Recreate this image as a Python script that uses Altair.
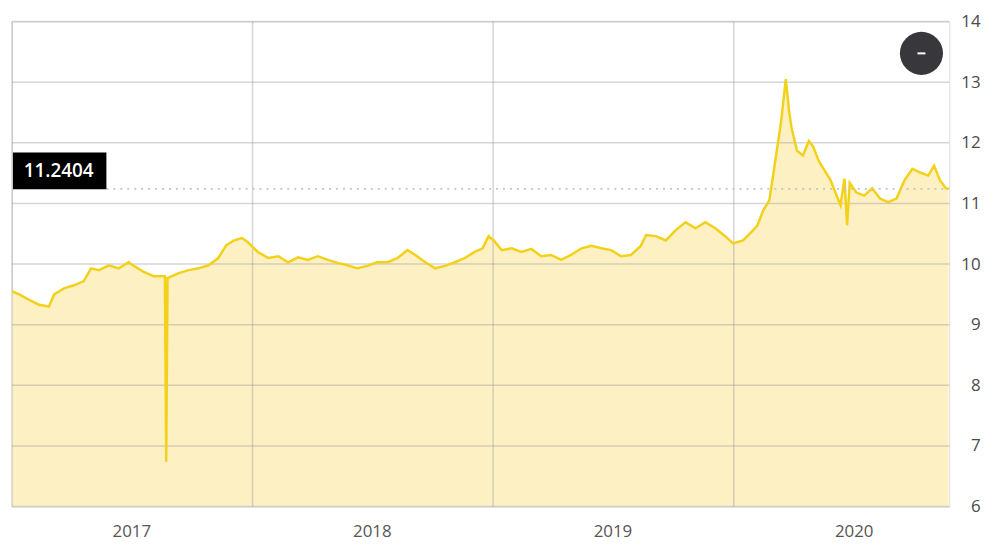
import altair as alt
import pandas as pd

dates = ["2017-01-01","2017-01-12","2017-01-27","2017-02-11","2017-02-26","2017-03-06","2017-03-21","2017-04-05","2017-04-20","2017-05-01",
         "2017-05-13","2017-05-28","2017-06-12","2017-06-27","2017-07-05","2017-07-20","2017-08-04","2017-08-21","2017-08-23","2017-08-25",
         "2017-09-11","2017-09-26","2017-10-11","2017-10-26","2017-11-10","2017-11-22","2017-12-04","2017-12-16","2017-12-25","2018-01-09",
         "2018-01-25","2018-02-09","2018-02-24","2018-03-11","2018-03-26","2018-04-10","2018-04-25","2018-05-10","2018-05-25","2018-06-09",
         "2018-06-24","2018-07-09","2018-07-25","2018-08-09","2018-08-24","2018-09-05","2018-09-20","2018-10-05","2018-10-20","2018-11-04",
         "2018-11-19","2018-12-04","2018-12-16","2018-12-25","2019-01-02","2019-01-14","2019-01-29","2019-02-13","2019-02-28","2019-03-15",
         "2019-03-30","2019-04-14","2019-04-29","2019-05-15","2019-05-30","2019-06-14","2019-06-29","2019-07-14","2019-07-29","2019-08-13",
         "2019-08-21","2019-09-05","2019-09-20","2019-10-05","2019-10-20","2019-11-04","2019-11-19","2019-12-04","2019-12-19","2019-12-31",
         "2020-01-15","2020-01-27","2020-02-06","2020-02-15","2020-02-24","2020-03-04","2020-03-13","2020-03-20","2020-03-25","2020-03-29",
         "2020-04-06","2020-04-15","2020-04-24","2020-04-30","2020-05-09","2020-05-18","2020-05-27","2020-06-05","2020-06-11","2020-06-17",
         "2020-06-21","2020-06-25","2020-07-05","2020-07-17","2020-07-29","2020-08-10","2020-08-22","2020-09-04","2020-09-16","2020-09-28",
         "2020-10-10","2020-10-22","2020-10-31","2020-11-09","2020-11-18","2020-11-22"]
values = [9.55,9.50,9.41,9.33,9.30,9.50,9.60,9.65,9.72,9.93,
          9.90,9.98,9.93,10.03,9.97,9.87,9.80,9.80,6.74,9.77,
          9.85,9.90,9.93,9.98,10.10,10.31,10.39,10.43,10.36,10.20,
          10.10,10.13,10.03,10.11,10.07,10.13,10.07,10.02,9.98,9.93,
          9.97,10.03,10.03,10.10,10.23,10.15,10.03,9.93,9.97,10.03,
          10.10,10.20,10.26,10.46,10.39,10.23,10.26,10.20,10.25,10.13,
          10.15,10.07,10.15,10.26,10.30,10.26,10.23,10.13,10.15,10.30,
          10.48,10.46,10.39,10.56,10.69,10.59,10.69,10.59,10.46,10.34,
          10.39,10.52,10.64,10.89,11.05,11.70,12.36,13.05,12.52,12.23,
          11.87,11.79,12.03,11.95,11.70,11.54,11.38,11.13,10.97,11.41,
          10.64,11.34,11.18,11.13,11.25,11.08,11.02,11.08,11.38,11.57,
          11.51,11.46,11.62,11.38,11.25,11.24]

current_value = 11.2404
current_label = "11.2404"
y_ticks = [6, 7, 8, 9, 10, 11, 12, 13, 14]
y_min = 6
year_starts = ["2017-01-01", "2018-01-01", "2019-01-01", "2020-01-01"]
label_years = [2017, 2018, 2019, 2020]

df = pd.DataFrame({"date": dates, "value": values})
grid_y = pd.DataFrame({"v": y_ticks})
grid_x = pd.DataFrame({"d": year_starts})

W, H = 943, 488
FONT = "Open Sans"

xscale = alt.Scale(type="utc",
                   domain=[alt.DateTime(year=2017, month=1, date=1, utc=True),
                           alt.DateTime(year=2020, month=11, date=23, utc=True)])
yscale = alt.Scale(domain=[6, 14], nice=False, zero=False)

x_enc = alt.X("date:T", scale=xscale, title=None,
              axis=alt.Axis(values=[alt.DateTime(year=y, month=7, date=1, utc=True) for y in label_years],
                            format="%Y", grid=False, ticks=False, domain=False,
                            labelFontSize=17, labelColor="#555555", labelFont=FONT,
                            labelPadding=17))
y_enc = alt.Y("value:Q", scale=yscale, title=None,
              axis=alt.Axis(orient="right", values=y_ticks, format="d", grid=False, ticks=False, domain=False,
                            labelFontSize=17, labelColor="#4a4a4a", labelFont=FONT,
                            labelAlign="right", labelPadding=31, labelBaseline="middle"))

base = alt.Chart(df)

area = base.mark_area(color="#fdf1c4", opacity=1, clip=True).encode(
    x=x_enc, y=y_enc, y2=alt.Y2(datum=y_min))

hgrid = alt.Chart(grid_y).mark_rule(color="#999999", opacity=0.4, strokeWidth=1.5).encode(
    y=alt.Y("v:Q", scale=yscale), x=alt.value(0), x2=alt.value(W))
vgrid = alt.Chart(grid_x).mark_rule(color="#999999", opacity=0.4, strokeWidth=1.5).encode(
    x=alt.X("d:T", scale=xscale), y=alt.value(0), y2=alt.value(H))

line = base.mark_line(color="#f3d11b", strokeWidth=2.5, clip=True).encode(x="date:T", y="value:Q")

cur_df = pd.DataFrame({"v": [current_value], "t": [current_label]})
dotted = alt.Chart(cur_df).mark_rule(color="#c4c4c4", strokeWidth=2, strokeDash=[2, 5]).encode(
    y=alt.Y("v:Q", scale=yscale), x=alt.value(95), x2=alt.value(W))
box = alt.Chart(cur_df).mark_rect(color="#000000", width=94, height=37, yOffset=-18).encode(
    y=alt.Y("v:Q", scale=yscale), x=alt.value(48))
box_text = alt.Chart(cur_df).mark_text(color="#ffffff", font=FONT, fontSize=19, fontWeight=600,
                                       align="center", baseline="middle", yOffset=-18).encode(
    y=alt.Y("v:Q", scale=yscale), x=alt.value(47), text="t:N")

btn = alt.Chart(cur_df).mark_point(shape="circle", filled=True, color="#38383c", opacity=1, size=1880).encode(
    x=alt.value(915), y=alt.value(32))
btn_minus = alt.Chart(cur_df).mark_rule(color="#ffffff", strokeWidth=2).encode(
    x=alt.value(911), x2=alt.value(919), y=alt.value(32))

chart = alt.layer(area, hgrid, vgrid, line, dotted, box, box_text, btn, btn_minus).properties(
    width=W, height=H,
    padding={"left": 4, "top": 12, "right": 45, "bottom": 39},
    autosize=alt.AutoSizeParams(type="none"),
).configure_view(stroke=None).configure(background="#ffffff")

chart.save("out.html", embed_options={"renderer": "svg", "actions": False})
